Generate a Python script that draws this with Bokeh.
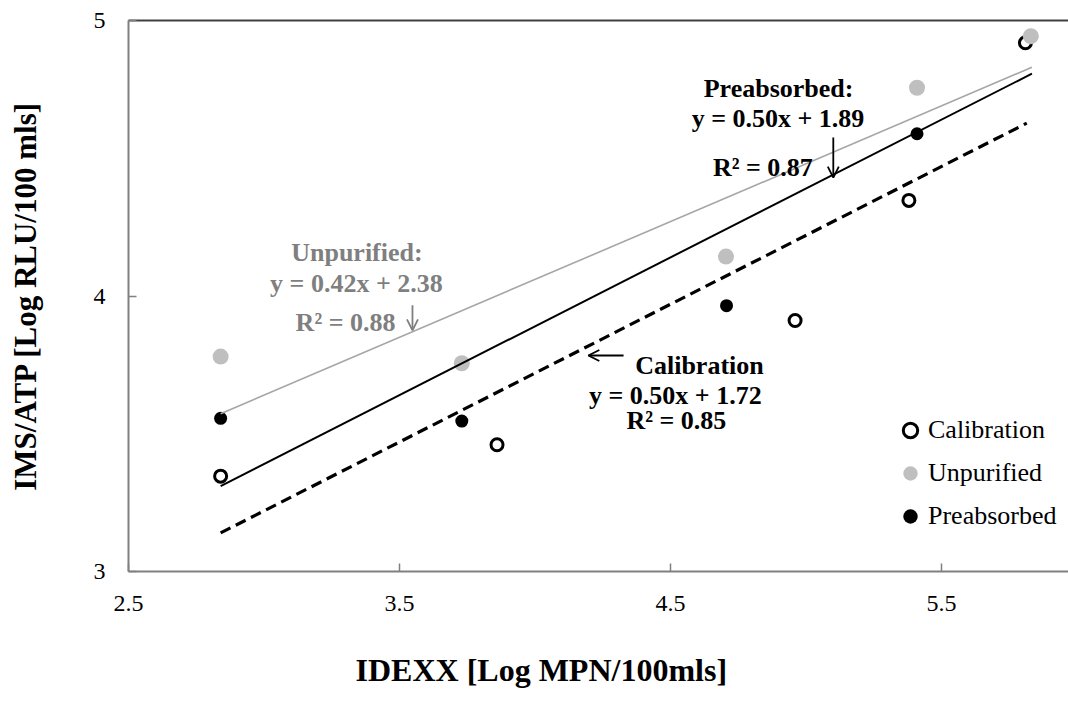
from bokeh.plotting import figure
from bokeh.models import (Range1d, FixedTicker, LinearAxis, Legend, LegendItem,
                          Label, Arrow, OpenHead, Title)
from bokeh.embed import file_html
from bokeh.resources import INLINE

# ---- data ----
calib_x = [2.84, 3.86, 4.96, 5.38, 5.81]
calib_y = [3.346, 3.460, 3.911, 4.347, 4.919]
unpur_x = [2.84, 3.73, 4.705, 5.41, 5.83]
unpur_y = [3.780, 3.756, 4.143, 4.756, 4.943]
preab_x = [2.84, 3.73, 4.707, 5.41]
preab_y = [3.556, 3.546, 3.965, 4.589]

# trendline equations (from the chart annotations): slope, intercept, x start, x end
calib_fit = (0.50, 1.72, 2.84, 5.815)
unpur_fit = (0.42, 2.38, 2.84, 5.834)
preab_fit = (0.50, 1.89, 2.84, 5.834)

x_ticks = [2.5, 3.5, 4.5, 5.5]
y_ticks = [3, 4, 5]

SERIF = "Liberation Serif"
GRAY_TXT = "#7f7f7f"

p = figure(width=1068, height=702, output_backend="svg", toolbar_location=None,
           x_range=Range1d(2.5, 5.969), y_range=Range1d(3, 5),
           min_border_left=128, min_border_right=0, min_border_top=20,
           min_border_bottom=131)
p.outline_line_color = None
p.xgrid.visible = False
p.ygrid.visible = False
p.background_fill_color = "white"
p.border_fill_color = "white"

for ax in (p.xaxis[0], p.yaxis[0]):
    ax.axis_line_color = "#808080"
    ax.axis_line_width = 2
    ax.major_tick_line_color = "#808080"
    ax.major_tick_line_width = 1.5
    ax.major_tick_in = 8
    ax.major_tick_out = 0
    ax.minor_tick_line_color = None
    ax.major_label_text_font = SERIF
    ax.major_label_text_font_size = "24px"
    ax.major_label_text_color = "black"
    ax.axis_label_text_font = SERIF
    ax.axis_label_text_font_style = "bold"
    ax.axis_label_text_font_size = "31px"
    ax.axis_label_text_color = "black"

p.xaxis[0].ticker = FixedTicker(ticks=x_ticks)
p.yaxis[0].ticker = FixedTicker(ticks=y_ticks)
p.yaxis[0].axis_label = "IMS/ATP [Log RLU/100 mls]"
p.xaxis[0].major_label_standoff = 24
p.yaxis[0].major_label_standoff = 23
p.yaxis[0].axis_label_standoff = 48

# x-axis title, centred under the whole chart as in the reference
# (leading empty line pushes it down to the reference's position)
p.add_layout(Title(text="\nIDEXX [Log MPN/100mls]", align="left", offset=227,
                   text_font=SERIF, text_font_style="bold", text_font_size="32px",
                   text_color="black", standoff=0), "below")

top = LinearAxis(ticker=FixedTicker(ticks=[]), major_label_text_font_size="0px",
                 axis_line_color="#404040", axis_line_width=2,
                 major_tick_line_color=None, minor_tick_line_color=None)
p.add_layout(top, "above")

# ---- points ----
r_cal = p.scatter(calib_x, calib_y, marker="circle", size=12, fill_color="white",
                  line_color="black", line_width=3)
r_unp = p.scatter(unpur_x, unpur_y, marker="circle", size=16, fill_color="#bfbfbf",
                  line_color="#bfbfbf", line_width=0)
r_pre = p.scatter(preab_x, preab_y, marker="circle", size=13, fill_color="black",
                  line_color="black", line_width=0)

# ---- trendlines ----
def fit_line(f):
    m, b, x0, x1 = f
    return [x0, x1], [m * x0 + b, m * x1 + b]

xs, ys = fit_line(unpur_fit)
p.line(xs, ys, line_color="#a6a6a6", line_width=1.6)
xs, ys = fit_line(preab_fit)
p.line(xs, ys, line_color="black", line_width=2)
xs, ys = fit_line(calib_fit)
p.line(xs, ys, line_color="black", line_width=3.2, line_dash="11 6")

# ---- annotations ----
def lab(x, y, t, color="black"):
    p.add_layout(Label(x=x, y=y, text=t, text_font=SERIF, text_font_style="bold",
                       text_font_size="26px", text_color=color,
                       text_align="center", text_baseline="alphabetic"))

def arrow(x0, y0, x1, y1, color):
    p.add_layout(Arrow(x_start=x0, y_start=y0, x_end=x1, y_end=y1,
                       line_color=color, line_width=1.8,
                       end=OpenHead(size=11, line_color=color, line_width=1.8)))

lab(3.343, 4.159, "Unpurified:", GRAY_TXT)
lab(3.341, 4.045, "y = 0.42x + 2.38", GRAY_TXT)
lab(3.301, 3.905, "R² = 0.88", GRAY_TXT)
arrow(3.548, 3.966, 3.548, 3.875, GRAY_TXT)

lab(4.899, 4.754, "Preabsorbed:")
lab(4.897, 4.644, "y = 0.50x + 1.89")
lab(4.841, 4.466, "R² = 0.87")
arrow(5.101, 4.575, 5.101, 4.430, "black")

lab(4.607, 3.748, "Calibration")
lab(4.518, 3.639, "y = 0.50x + 1.72")
lab(4.522, 3.548, "R² = 0.85")
arrow(4.327, 3.784, 4.197, 3.784, "black")

# ---- legend ----
legend = Legend(items=[LegendItem(label="Calibration", renderers=[r_cal]),
                       LegendItem(label="Unpurified", renderers=[r_unp]),
                       LegendItem(label="Preabsorbed", renderers=[r_pre])],
                location=(764, 37), orientation="vertical",
                glyph_width=36, glyph_height=36, label_height=36, spacing=7,
                label_standoff=0, padding=0, margin=0,
                border_line_color=None, background_fill_alpha=0,
                label_text_font=SERIF, label_text_font_size="26px",
                label_text_color="black")
p.add_layout(legend, "center")

open("out.html", "w").write(file_html(p, INLINE))
